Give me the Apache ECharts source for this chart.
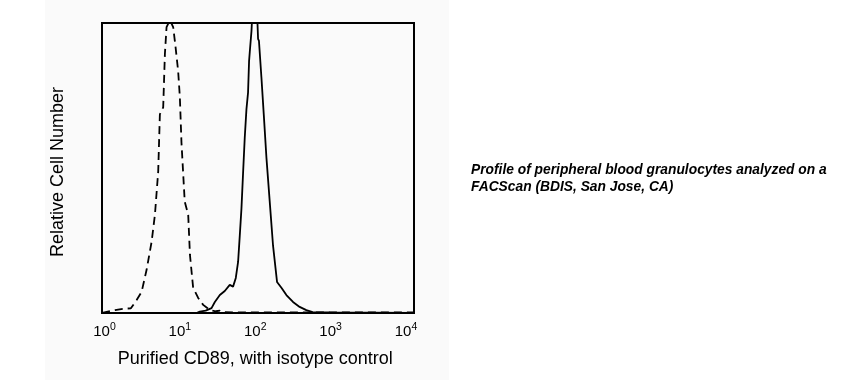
<!DOCTYPE html>
<html>
<head>
<meta charset="utf-8">
<script src="https://cdn.jsdelivr.net/npm/echarts@6/dist/echarts.min.js"></script>
<style>
html,body{margin:0;padding:0;background:#ffffff;}
#chart{width:864px;height:380px;}
</style>
</head>
<body>
<div id="chart"></div>
<script>
// Isotype control (dashed) histogram: fluorescence intensity vs relative count
var isotypeX = [0.93, 1.38, 1.87, 2.24, 2.67, 3.11, 3.62, 4.22, 4.67, 5.16, 5.43, 6.01, 6.33, 6.66, 7.38, 8.15, 8.77, 9.49, 10.0, 10.5, 11.6, 12.9, 13.6, 15.0, 17.5, 20.4, 25.0, 30, 33.9, 37, 60, 200, 1000, 12700];
var isotypeY = [0, 1.0, 1.5, 1.6, 4.5, 7.3, 14.9, 24.6, 33.9, 48.8, 68.5, 70.9, 89.3, 98.6, 101, 98.6, 91.7, 83.4, 74.4, 58.8, 38.4, 33.9, 20.1, 8.7, 5.2, 2.8, 1.0, 0.6, 0.8, 0.3, 0.2, 0.2, 0.2, 0.2];
// CD89 stained (solid) histogram
var cd89X = [16.6, 18.4, 22, 26.3, 29.1, 33.9, 39.4, 45.9, 50.8, 55.2, 59.2, 62.3, 65.6, 68.9, 72.6, 76.4, 80.3, 82.8, 84.6, 89.1, 91.8, 98.4, 105.6, 109, 112, 120.7, 129.7, 140.7, 155.6, 172.2, 194.5, 222.4, 258.9, 316.7, 388, 476, 578, 970, 12700];
var cd89Y = [0, 0.5, 0.8, 1.7, 3.8, 6.2, 7.6, 9.7, 9.1, 12.1, 17.6, 26.6, 36.0, 48.1, 60.6, 70.2, 76.1, 86.9, 90, 97.2, 104, 110, 104, 94.5, 93.8, 81.3, 68.5, 53.6, 38.4, 23.2, 10.7, 8.7, 6.2, 3.8, 2.1, 1.0, 0.3, 0.2, 0];
// Tick label exponents (10^n)
var tickExponents = ['0', '1', '2', '3', '4'];
var xTitle = 'Purified CD89, with isotype control';
var yTitle = 'Relative Cell Number';
var captionLines = ['Profile of peripheral blood granulocytes analyzed on a', 'FACScan (BDIS, San Jose, CA)'];

function pairs(xs, ys) { return xs.map(function (x, i) { return [x, ys[i]]; }); }

var chart = echarts.init(document.getElementById('chart'), null, {renderer: 'canvas'});
var font = '"Liberation Sans", Arial, sans-serif';
chart.setOption({
  backgroundColor: '#ffffff',
  animation: false,
  textStyle: {fontFamily: font},
  graphic: [
    {type: 'rect', z: -10, silent: true, shape: {x: 45, y: 0, width: 404, height: 380}, style: {fill: '#fafafa'}},
    {type: 'text', x: 58, y: 172, rotation: Math.PI / 2,
     style: {text: yTitle, font: '18px ' + font, fill: '#000', align: 'center', verticalAlign: 'middle'}},
    {type: 'text', left: 471, top: 162, style: {text: captionLines.join('\n'), font: 'italic bold 13.8px ' + font, fill: '#000', lineHeight: 17}}
  ],
  grid: [
    {left: 102, top: 23, width: 312, height: 290, show: true, borderColor: '#000', borderWidth: 2, backgroundColor: 'transparent'},
    {left: 104.5, top: 23, width: 301.5, height: 290, show: false}
  ],
  xAxis: [
    {type: 'log', gridIndex: 0, logBase: 10, min: 0.927, max: 12760,
     axisLine: {show: false}, axisTick: {show: false}, axisLabel: {show: false}, splitLine: {show: false}},
    {type: 'value', gridIndex: 1, min: 0, max: 4, interval: 1,
     axisLine: {show: false}, axisTick: {show: false}, splitLine: {show: false},
     axisLabel: {margin: 9, formatter: function (v) { return '{b|10}{s|' + tickExponents[Math.round(v)] + '}'; },
       rich: {b: {fontSize: 15, color: '#000', fontFamily: font, verticalAlign: 'bottom', lineHeight: 17},
              s: {fontSize: 10.5, color: '#000', fontFamily: font, verticalAlign: 'top', lineHeight: 9}}},
     name: xTitle, nameLocation: 'middle', nameGap: 37,
     nameTextStyle: {fontSize: 18, color: '#000', fontFamily: font}}
  ],
  yAxis: [
    {type: 'value', gridIndex: 0, min: 0, max: 100,
     axisLine: {show: false}, axisTick: {show: false}, axisLabel: {show: false}, splitLine: {show: false}},
    {type: 'value', gridIndex: 1, min: 0, max: 100, show: false}
  ],
  series: [
    {type: 'line', xAxisIndex: 0, yAxisIndex: 0, data: pairs(isotypeX, isotypeY), showSymbol: false, clip: true,
     lineStyle: {color: '#000', width: 1.8, type: [8, 5]}},
    {type: 'line', xAxisIndex: 0, yAxisIndex: 0, data: pairs(cd89X, cd89Y), showSymbol: false, clip: true,
     lineStyle: {color: '#000', width: 1.8}}
  ]
});
</script>
</body>
</html>
